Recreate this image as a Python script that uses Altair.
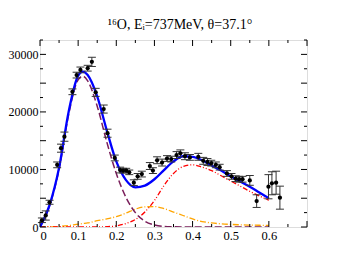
import altair as alt
import pandas as pd

# ---------------- data ----------------
pt_q = [0.005, 0.015, 0.025, 0.045, 0.055, 0.064, 0.085, 0.096, 0.106, 0.125, 0.136,
        0.146, 0.167, 0.177, 0.196, 0.210, 0.218, 0.226, 0.234, 0.246, 0.256, 0.267,
        0.288, 0.296, 0.307, 0.320, 0.333, 0.344, 0.358, 0.368, 0.380, 0.393, 0.415,
        0.428, 0.439, 0.449, 0.461, 0.471, 0.490, 0.502, 0.513, 0.522, 0.531, 0.550,
        0.568, 0.599, 0.608, 0.619, 0.629]
pt_v = [1170, 2000, 4300, 10800, 13700, 15700, 23500, 26400, 27300, 27600, 28700,
        23400, 20500, 16300, 12000, 9900, 9800, 9800, 9500, 7700, 8800, 9200,
        10600, 9800, 11600, 11200, 11900, 11800, 12500, 12800, 12300, 12100, 12200,
        11500, 11300, 11100, 10800, 10400, 9300, 8800, 8400, 8300, 8300, 8100,
        4500, 7000, 7600, 7700, 5100]
pt_err = [400, 800, 350, 500, 700, 800, 500, 500, 500, 500, 800,
          700, 700, 700, 500, 500, 400, 400, 400, 500, 500, 500,
          600, 500, 600, 600, 500, 500, 600, 600, 600, 500, 600,
          600, 600, 500, 500, 500, 500, 500, 500, 500, 500, 850,
          1100, 2100, 2000, 2000, 2000]

cq = [0, 0.025, 0.05, 0.075, 0.1, 0.1125, 0.125, 0.15, 0.175, 0.2, 0.225, 0.25, 0.275,
      0.3, 0.325, 0.35, 0.375, 0.4, 0.425, 0.45, 0.475, 0.5, 0.525, 0.55, 0.575, 0.6]
total = [0, 3800, 10300, 20000, 26300, 27000, 26400, 22700, 16800, 11400, 8200, 6900, 7200,
         8300, 9900, 11400, 12300, 12200, 11600, 10700, 9800, 8800, 7900, 7000, 6000, 5000]
peak1 = [0, 3700, 10000, 19500, 25600, 26200, 25400, 21000, 14800, 9300, 5200, 2500, 1000,
         350, 100, 30, 0, 0, 0, 0, 0, 0, 0, 0, 0, 0]
peak2 = [0, 0, 0, 0, 0, 0, 0, 0, 50, 200, 600, 1300, 2600,
         4600, 7200, 9300, 10500, 10800, 10400, 9800, 8900, 8000, 7100, 6200, 5400, 4650]
peak3 = [0, 30, 100, 250, 500, 600, 700, 1100, 1400, 1800, 2400, 3100, 3500,
         3550, 3200, 2600, 2000, 1400, 950, 700, 550, 450, 380, 330, 300, 280]

x_labels = [0, 0.1, 0.2, 0.3, 0.4, 0.5, 0.6]
x_major = [0, 0.1, 0.2, 0.3, 0.4, 0.5, 0.6, 0.7]
x_minor = [0.05, 0.15, 0.25, 0.35, 0.45, 0.55, 0.65]
y_major = [0, 5000, 10000, 15000, 20000, 25000, 30000]
y_minor = [2500, 7500, 12500, 17500, 22500, 27500, 32500]

TITLE = "¹⁶O, Eᵢ=737MeV, θ=37.1°"

# ---------------- chart ----------------
W, H = 267, 187
FONT = "Liberation Serif"

pts = pd.DataFrame({"q": pt_q, "v": pt_v, "e": pt_err})
pts["lo"] = pts["v"] - pts["e"]
pts["hi"] = pts["v"] + pts["e"]
curves = pd.DataFrame({"q": cq, "total": total, "p1": peak1, "p2": peak2, "p3": peak3})

xs = alt.Scale(domain=[0, 0.7], nice=False, zero=False)
ys = alt.Scale(domain=[0, 32500], nice=False, zero=False)

X = alt.X("q:Q", scale=xs,
          axis=alt.Axis(values=x_labels, format="~g", title=None,
                        ticks=False, domain=False, grid=False, labelFont=FONT,
                        labelFontSize=12.5, labelColor="black", labelPadding=2))
base = alt.Chart(curves)


def curve(col, color, width, dash=None):
    kw = dict(color=color, strokeWidth=width, interpolate="monotone", clip=True)
    if dash:
        kw["strokeDash"] = dash
    return base.mark_line(**kw).encode(
        x=alt.X("q:Q", scale=xs),
        y=alt.Y(f"{col}:Q", scale=ys,
                axis=alt.Axis(values=y_major, format="d", title=None, ticks=False,
                              domain=False, grid=False, labelFont=FONT, labelFontSize=12,
                              labelColor="black", labelPadding=2)))


l_p3 = curve("p3", "#FFA500", 1.3, [6, 2, 1, 2])
l_p2 = curve("p2", "#FF0000", 1.3, [5, 2, 1, 2, 1, 2])
l_p1 = curve("p1", "#7A1E5A", 1.5, [7, 3])
l_tot = curve("total", "#0000FF", 2.3)

pbase = alt.Chart(pts)
err_rule = pbase.mark_rule(color="#333333", strokeWidth=1).encode(
    x=alt.X("q:Q", scale=xs), y=alt.Y("lo:Q", scale=ys), y2="hi:Q")
cap_lo = pbase.mark_tick(orient="horizontal", size=8, thickness=1, color="#333333", opacity=1).encode(
    x=alt.X("q:Q", scale=xs), y=alt.Y("lo:Q", scale=ys))
cap_hi = pbase.mark_tick(orient="horizontal", size=8, thickness=1, color="#333333", opacity=1).encode(
    x=alt.X("q:Q", scale=xs), y=alt.Y("hi:Q", scale=ys))
dots = pbase.mark_circle(size=18, color="black", opacity=1).encode(
    x=X, y=alt.Y("v:Q", scale=ys))


def xticks(vals, length):
    d = alt.Chart(pd.DataFrame({"t": vals}))
    b = d.mark_rule(color="black", strokeWidth=1).encode(
        x=alt.X("t:Q", scale=xs), y=alt.value(H), y2=alt.value(H - length))
    t = d.mark_rule(color="black", strokeWidth=1).encode(
        x=alt.X("t:Q", scale=xs), y=alt.value(0), y2=alt.value(length))
    return [b, t]


def yticks(vals, length):
    d = alt.Chart(pd.DataFrame({"t": vals}))
    l = d.mark_rule(color="black", strokeWidth=1).encode(
        y=alt.Y("t:Q", scale=ys), x=alt.value(0), x2=alt.value(length))
    r = d.mark_rule(color="black", strokeWidth=1).encode(
        y=alt.Y("t:Q", scale=ys), x=alt.value(W), x2=alt.value(W - length))
    return [l, r]


tick_layers = xticks(x_major, 6) + xticks(x_minor, 3) + yticks(y_major, 6) + yticks(y_minor, 3)

title_mark = alt.Chart(pd.DataFrame({"t": [TITLE]})).mark_text(
    font=FONT, fontSize=14, color="black", align="center", baseline="alphabetic"
).encode(text="t:N", x=alt.value(140), y=alt.value(-11))

chart = alt.layer(
    l_p3, l_p2, l_p1, l_tot, err_rule, cap_lo, cap_hi, dots, *tick_layers, title_mark
).properties(
    width=W, height=H,
    autosize=alt.AutoSizeParams(type="none"),
    padding={"left": 32, "top": 32, "right": 31, "bottom": 32},
).configure_view(stroke="black", strokeWidth=1).configure(background="white")

chart.save("out.html", embed_options={"renderer": "svg", "actions": False})
